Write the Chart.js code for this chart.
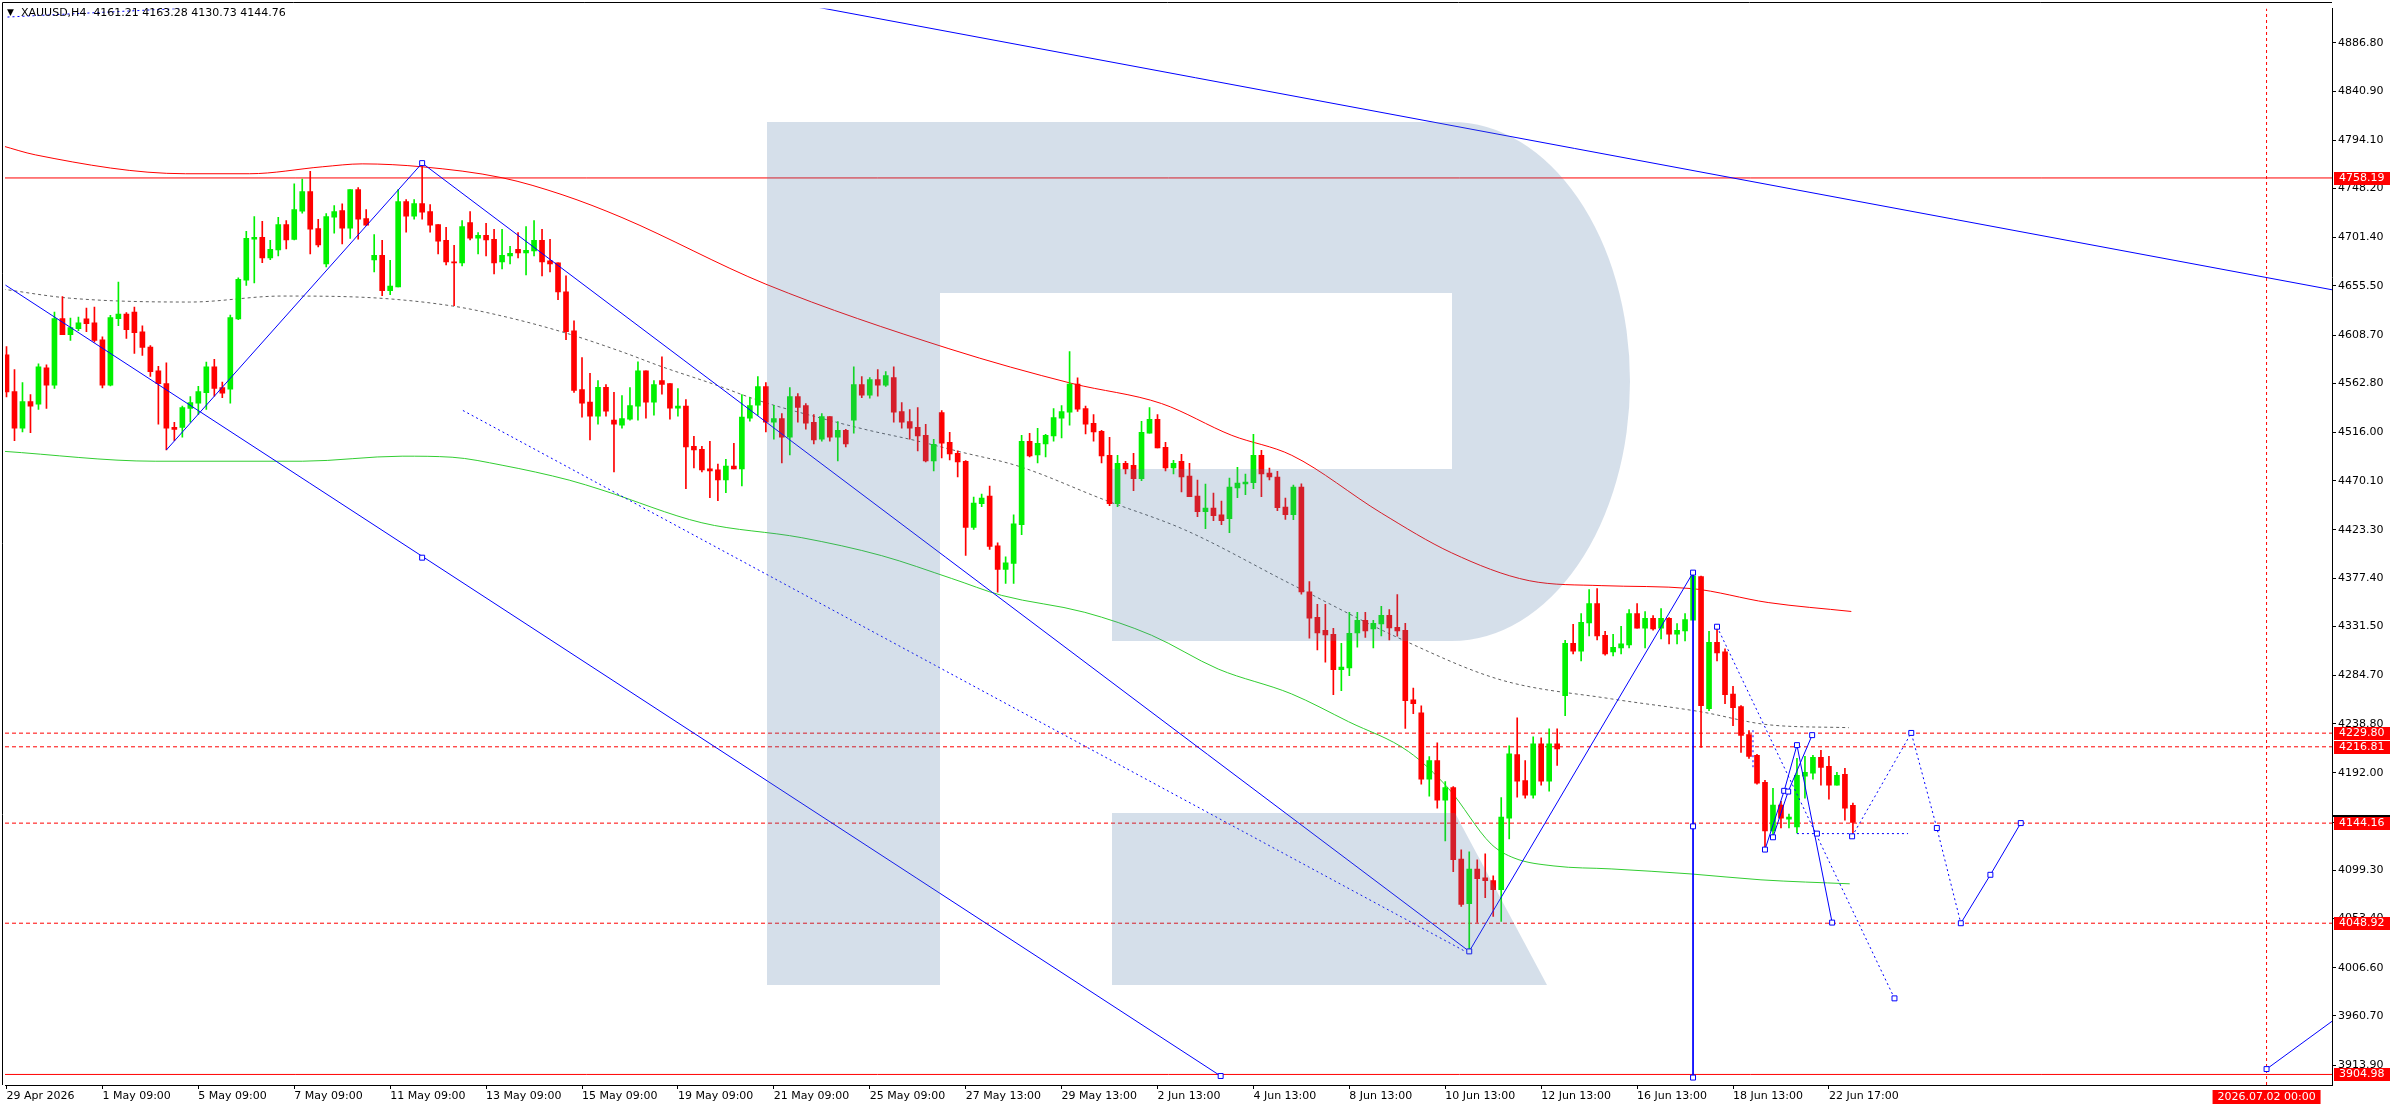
<!DOCTYPE html>
<html>
<head>
<meta charset="utf-8">
<script src="https://cdn.jsdelivr.net/npm/chart.js@4.4.1/dist/chart.umd.min.js"></script>
<style>
  html, body { margin: 0; padding: 0; background: #fff; }
  canvas { display: block; }
</style>
</head>
<body>
<canvas id="chart" width="2396" height="1110"></canvas>
<script>
// XAUUSD H4 candles, bar 0 = 29 Apr 2026
const opens = [4589.9,4554.9,4520.1,4545.4,4542.9,4577.6,4560.9,4624.3,4609.1,4614.8,4624.0,4620.2,4604.1,4560.9,4624.3,4628.7,4630.6,4611.7,4597.2,4574.7,
  4562.4,4520.8,4520.8,4538.8,4543.8,4553.9,4578.5,4558.6,4557.1,4624.0,4660.9,4700.0,4701.6,4682.0,4689.6,4713.9,4699.7,4726.5,4745.2,4710.1,
  4676.4,4720.9,4727.2,4710.4,4747.1,4719.6,4680.2,4684.6,4650.8,4654.6,4735.7,4721.8,4733.8,4726.2,4713.9,4698.8,4678.3,4677.3,4715.8,4701.0,
  4703.5,4699.7,4678.3,4683.9,4690.3,4686.8,4688.7,4698.8,4679.2,4677.3,4649.8,4612.6,4556.8,4544.8,4531.5,4558.9,4527.7,4523.0,4528.7,4541.0,
  4574.7,4544.8,4565.3,4562.4,4539.1,4541.0,4502.8,4499.9,4481.3,4480.4,4470.9,4483.9,4481.3,4529.6,4541.9,4559.6,4525.8,4529.3,4511.6,4550.1,
  4541.6,4525.5,4509.7,4531.2,4511.6,4517.9,4527.7,4561.5,4551.4,4566.2,4560.9,4568.1,4535.9,4526.4,4520.8,4513.2,4488.9,4535.0,4506.6,4496.2,
  4488.6,4425.5,4448.2,4455.4,4408.1,4385.7,4391.4,4428.3,4507.5,4494.6,4505.0,4512.6,4529.6,4535.3,4562.0,4538.8,4524.6,4517.0,4494.3,4448.2,
  4486.7,4484.8,4471.9,4515.4,4528.4,4501.8,4482.3,4488.6,4474.4,4455.4,4440.6,4444.1,4437.5,4434.0,4463.3,4467.1,4468.1,4494.3,4477.2,4473.4,
  4445.0,4437.8,4464.0,4364.3,4340.0,4327.7,4323.9,4290.1,4292.0,4325.1,4337.1,4328.9,4333.7,4341.9,4330.5,4327.7,4261.4,4249.1,4185.9,4203.6,
  4166.1,4178.1,4109.9,4067.6,4100.4,4092.2,4089.4,4080.9,4149.0,4209.3,4184.7,4170.8,4219.7,4184.0,4219.7,4265.5,4315.3,4307.8,4334.6,4353.2,
  4322.9,4307.1,4310.9,4313.7,4343.7,4329.8,4339.0,4329.8,4339.0,4324.1,4327.0,4337.4,4378.7,4253.1,4316.3,4307.1,4267.0,4255.0,4228.5,4208.6,
  4183.1,4136.7,4161.3,4148.0,4140.5,4188.8,4191.6,4206.7,4198.2,4180.2,4190.6,4161.21];
const highs = [4597.8,4575.7,4563.4,4552.0,4581.4,4580.4,4630.6,4645.4,4624.9,4625.9,4634.4,4635.3,4607.0,4627.5,4659.0,4630.0,4635.3,4617.4,4598.7,4578.8,
  4582.3,4525.5,4541.0,4550.1,4559.9,4582.9,4585.5,4564.0,4627.8,4663.1,4707.3,4721.5,4716.8,4698.8,4720.6,4717.7,4752.7,4757.2,4764.4,4718.7,
  4724.3,4731.9,4733.5,4747.1,4749.0,4728.1,4704.4,4698.8,4679.8,4747.1,4737.6,4737.6,4772.3,4732.9,4713.9,4711.1,4694.0,4717.7,4726.2,4706.3,
  4714.9,4709.2,4709.2,4693.1,4706.3,4712.0,4717.7,4709.2,4699.7,4677.3,4665.0,4622.1,4587.3,4572.2,4565.3,4561.5,4554.2,4551.1,4558.6,4583.3,
  4574.7,4565.3,4588.0,4562.4,4557.7,4547.3,4512.2,4502.8,4507.5,4486.0,4490.5,4505.6,4552.0,4549.2,4569.1,4563.4,4541.9,4534.0,4558.6,4553.0,
  4543.5,4533.1,4534.0,4531.2,4526.4,4518.9,4578.5,4569.1,4568.1,4575.7,4573.8,4578.5,4544.4,4537.8,4539.7,4523.6,4509.4,4536.9,4516.0,4498.4,
  4489.2,4454.5,4457.3,4464.9,4411.0,4397.7,4437.5,4513.2,4515.1,4519.8,4514.1,4538.8,4541.6,4593.0,4568.0,4541.0,4533.1,4518.0,4511.3,4494.3,
  4488.6,4496.2,4526.5,4539.7,4533.1,4506.6,4489.5,4495.2,4486.7,4470.6,4466.8,4458.3,4450.7,4472.5,4482.9,4476.3,4514.1,4499.0,4482.0,4479.1,
  4453.6,4466.0,4467.0,4374.0,4352.3,4352.3,4329.5,4315.3,4344.7,4344.7,4344.7,4337.1,4350.4,4347.5,4361.7,4334.3,4272.7,4255.7,4207.4,4220.7,
  4183.7,4179.0,4118.7,4116.8,4109.3,4115.0,4094.1,4168.6,4217.8,4244.3,4203.6,4226.3,4225.4,4233.9,4233.9,4318.2,4333.3,4343.7,4366.5,4367.4,
  4326.7,4323.8,4331.4,4347.5,4353.2,4345.6,4341.8,4348.4,4339.9,4334.2,4343.7,4382.5,4379.4,4326.7,4328.6,4310.0,4274.3,4256.0,4232.3,4209.6,
  4185.0,4177.4,4165.0,4152.8,4205.8,4207.7,4208.6,4213.4,4207.7,4192.5,4196.3,4163.28];
const lows = [4549.8,4508.2,4516.4,4515.7,4537.8,4538.8,4558.0,4609.1,4603.5,4612.9,4612.0,4601.9,4558.3,4560.2,4617.7,4605.4,4591.2,4589.3,4569.4,4523.9,
  4499.3,4508.2,4511.6,4525.8,4533.1,4537.8,4550.4,4549.2,4543.8,4623.3,4655.9,4658.4,4677.6,4680.5,4684.0,4690.6,4699.1,4724.7,4685.8,4692.5,
  4673.5,4705.7,4695.3,4700.7,4700.0,4713.0,4668.8,4646.1,4647.0,4654.6,4706.7,4719.0,4719.0,4706.7,4685.8,4675.4,4636.6,4674.5,4699.1,4685.8,
  4683.9,4666.9,4671.6,4676.4,4682.0,4665.9,4683.9,4665.0,4668.8,4642.3,4604.4,4554.2,4530.6,4508.8,4523.9,4531.5,4478.5,4520.1,4527.7,4527.7,
  4529.6,4532.4,4552.3,4528.7,4531.5,4462.4,4482.3,4478.5,4453.9,4451.0,4458.6,4481.3,4465.2,4526.8,4532.4,4516.4,4509.7,4487.0,4494.6,4525.8,
  4519.2,4505.0,4507.8,4507.8,4488.9,4502.1,4515.4,4549.2,4548.5,4550.4,4559.9,4525.8,4520.1,4509.7,4498.4,4487.9,4479.4,4491.7,4489.8,4473.7,
  4399.0,4423.6,4445.3,4404.6,4363.9,4372.4,4372.4,4418.8,4492.7,4487.0,4492.7,4507.8,4510.7,4523.0,4536.0,4514.5,4507.8,4487.0,4446.3,4445.3,
  4476.6,4460.5,4470.0,4515.4,4501.2,4479.4,4476.6,4459.5,4454.8,4435.9,4424.5,4432.1,4428.3,4420.7,4453.9,4456.7,4462.4,4454.8,4470.9,4441.6,
  4433.1,4433.0,4362.0,4320.1,4309.0,4297.4,4266.4,4270.2,4284.4,4311.6,4321.0,4310.9,4322.3,4318.5,4322.0,4234.2,4248.4,4181.2,4169.9,4158.5,
  4127.2,4097.9,4064.8,4022.8,4049.6,4073.3,4055.3,4050.6,4129.1,4168.9,4168.0,4168.0,4180.3,4174.6,4199.2,4246.5,4305.2,4298.6,4322.3,4318.5,
  4304.0,4303.3,4305.2,4310.9,4329.8,4310.9,4327.9,4319.4,4314.7,4314.7,4317.5,4337.4,4216.2,4251.2,4298.6,4257.9,4237.0,4211.5,4205.8,4181.2,
  4121.5,4130.0,4139.5,4139.5,4134.8,4167.9,4185.9,4180.2,4167.0,4180.2,4147.1,4130.73];
const closes = [4554.5,4520.1,4545.4,4541.0,4578.5,4560.9,4624.3,4609.1,4615.8,4620.2,4619.6,4603.5,4560.9,4625.2,4628.7,4613.9,4611.0,4596.8,4573.8,4562.4,
  4520.1,4518.9,4539.7,4544.4,4554.9,4578.5,4558.0,4553.3,4625.2,4661.8,4700.7,4701.6,4682.0,4690.3,4713.9,4699.1,4728.1,4745.2,4709.5,4694.4,
  4721.5,4726.2,4710.4,4747.1,4719.0,4713.3,4684.6,4650.8,4655.2,4735.7,4721.8,4733.8,4725.6,4713.3,4698.1,4678.3,4677.3,4712.0,4701.0,4703.5,
  4699.1,4677.3,4684.6,4686.5,4686.8,4689.3,4698.8,4678.3,4676.4,4649.8,4612.0,4556.1,4543.8,4531.5,4558.9,4536.2,4523.9,4529.3,4541.6,4574.7,
  4544.8,4561.5,4561.8,4539.1,4541.0,4502.1,4499.3,4480.4,4479.4,4470.9,4483.9,4481.3,4530.5,4541.6,4559.6,4525.8,4529.3,4511.6,4550.1,4539.7,
  4524.9,4508.8,4531.2,4511.6,4517.9,4505.0,4561.5,4551.4,4566.2,4560.9,4570.0,4535.3,4525.8,4520.1,4512.6,4488.9,4504.7,4505.9,4495.5,4488.0,
  4425.5,4448.8,4453.6,4407.5,4385.7,4392.0,4428.9,4507.5,4493.6,4505.6,4513.2,4530.2,4535.9,4562.0,4538.1,4523.9,4516.4,4493.6,4448.2,4486.7,
  4481.3,4471.9,4516.0,4528.4,4501.2,4482.3,4486.7,4473.7,4454.8,4440.6,4444.1,4436.8,4432.1,4464.0,4467.8,4468.7,4494.3,4476.6,4473.7,4444.4,
  4437.8,4464.0,4364.3,4339.3,4325.1,4323.2,4290.1,4292.6,4324.8,4337.1,4327.0,4334.3,4341.9,4329.9,4327.0,4260.8,4257.9,4185.9,4203.6,4166.1,
  4178.1,4109.3,4066.7,4100.4,4091.3,4089.4,4080.9,4150.0,4210.2,4184.0,4170.8,4219.7,4184.0,4219.7,4214.7,4315.3,4307.8,4335.2,4353.2,4322.3,
  4305.2,4311.5,4314.7,4343.7,4329.8,4339.0,4328.9,4339.0,4324.1,4327.6,4338.0,4379.4,4256.0,4316.3,4306.2,4266.4,4254.1,4227.6,4207.7,4182.1,
  4136.7,4161.3,4149.0,4149.9,4189.7,4192.5,4206.7,4197.3,4180.2,4189.7,4158.5,4144.76];

// moving averages, [bar, price]
const redMA = [[-0.5,4788.7],[3.6,4780.2],[22.4,4762.2],[30.4,4762.2],[39.5,4768.8],[44.5,4771.6],[52,4768.8],[62,4758.4],[69.5,4742.3],
  [77,4720.5],[95,4657.1],[117.9,4595.7],[133.3,4562.6],[144.5,4543.5],[153.3,4513.2],[160.8,4494.2],[172,4439.3],[180.8,4401.4],
  [190.5,4374.9],[199.5,4370.2],[210.8,4367.4],[220.4,4354.1],[230.8,4345.6]];
const dotMA = [[-0.5,4652.4],[7.9,4643.8],[22.9,4640.1],[34.5,4645.8],[46.6,4643.8],[55.8,4636.3],[62,4626.8],[69.5,4611.7],[77,4592.7],
  [82,4578.5],[88.3,4562.4],[94.5,4545.4],[101.1,4531.2],[107.9,4518],[113.6,4508.5],[119.5,4497.2],[126.6,4483.9],[137.4,4451.7],
  [147.4,4423.3],[160.8,4371.3],[174.5,4319.2],[187,4280.4],[200.8,4262.4],[212,4250.1],[220.4,4237.8],[230.5,4235]];
const greenMA = [[-0.5,4498.1],[18.6,4488.6],[37,4488.6],[49.5,4493.4],[55.75,4492.4],[62,4484.8],[70.4,4470.6],[74.5,4461.2],[87,4430],
  [99.5,4415.8],[109.5,4398.7],[118.25,4377],[124.5,4360.9],[134.9,4344.8],[143.25,4323],[151.6,4290.8],[160.75,4267.2],[167.9,4240.7],
  [175.4,4212.3],[180.4,4177.2],[185.75,4124.2],[188.6,4111],[193.6,4103.4],[200.75,4100.6],[210.75,4095.8],[219.5,4090.2],[230.6,4086.4]];

// drawn objects, [bar, price]
const solidLines = [
  [[100.4,4922.2],[291,4651.7]],
  [[-0.125,4656.2],[151.9,3903.5]],
  [[20,4499.3],[52,4772.3],[183,4022.1],[211,4382.6],[211,3902]],
  [[220,4119],[222.4,4174.9],[224,4218.4],[228.4,4049.5]],
  [[221,4130.7],[222.9,4174.2],[225.9,4227.9]],
  [[244.5,4048.9],[248.2,4095],[252,4144.2]],
  [[282.75,3910.1],[291,3955.9]]
];
const dottedLines = [
  [[-0.5,4911.1],[22,4919.6]],
  [[57.1,4536.9],[182.4,4022.5]],
  [[214,4331.1],[236.2,3977.4]],
  [[224,4134.2],[237.9,4134.2]],
  [[230.9,4131.6],[238.3,4230],[241.5,4139.5],[244.5,4048.9]],
  [[218.5,4232.6],[218.5,4196.3]]
];
const anchors = [[52,4772.3],[52,4396.8],[151.9,3903.5],[183,4022.1],[211,4382.6],[211,4141.1],[211,3902],[214,4331.1],
  [220,4119],[221,4130.7],[222.4,4174.9],[222.9,4174.2],[224,4218.4],[225.9,4227.9],[226.5,4134.2],[228.4,4049.5],
  [230.9,4131.6],[236.2,3977.4],[238.3,4230],[241.5,4139.5],[244.5,4048.9],[248.2,4095],[252,4144.2],[282.75,3910.1]];

const solidLevels = [4758.19, 3904.98];
const dottedLevels = [4229.80, 4216.81, 4144.16, 4048.92];
const markedLevels = [4758.19, 4229.80, 4216.81, 4144.16, 4048.92, 3904.98];
const futureBar = 282.75;
const futureLabel = '2026.07.02 00:00';

const yTicks = [4886.8,4840.9,4794.1,4748.2,4701.4,4655.5,4608.7,4562.8,4516.0,4470.1,4423.3,4377.4,4331.5,4284.7,4238.8,4192.0,
  4145.2,4099.3,4053.4,4006.6,3960.7,3913.9];
const xTickBars = [0,12,24,36,48,60,72,84,96,108,120,132,144,156,168,180,192,204,216,228];
const xTickLabels = ['29 Apr 2026','1 May 09:00','5 May 09:00','7 May 09:00','11 May 09:00','13 May 09:00','15 May 09:00',
  '19 May 09:00','21 May 09:00','25 May 09:00','27 May 13:00','29 May 13:00','2 Jun 13:00','4 Jun 13:00','8 Jun 13:00',
  '10 Jun 13:00','12 Jun 13:00','16 Jun 13:00','18 Jun 13:00','22 Jun 17:00'];

const xMin = -0.1875, xMax = 290.9375;
const yMin = 3894.94, yMax = 4919.37;

const UP = 'rgb(0,240,0)', DOWN = '#ff0000', BLUE = '#0000ff';
const FONT = '11px "DejaVu Sans"';

Chart.defaults.font.family = '"DejaVu Sans", sans-serif';
Chart.defaults.font.size = 11;
Chart.defaults.color = '#000';

const candleColors = opens.map((o, i) => closes[i] >= o ? UP : DOWN);
const bodies = opens.map((o, i) => ({ x: i, y: [o, closes[i]] }));
const wicks = highs.map((h, i) => ({ x: i, y: [lows[i], h] }));

function pts(list) { return list.map(p => ({ x: p[0], y: p[1] })); }
function lineSet(list, color, dash, order, extra) {
  return Object.assign({
    type: 'line', data: pts(list), borderColor: color, borderWidth: 1, borderDash: dash,
    pointRadius: 0, fill: false, tension: 0, order: order
  }, extra || {});
}

const datasets = [];
solidLevels.forEach(v => datasets.push(lineSet([[xMin, v], [xMax, v]], '#ff0000', [], 60)));
dottedLevels.forEach(v => datasets.push(lineSet([[xMin, v], [xMax, v]], '#ff0000', [4, 3], 60)));
datasets.push(lineSet([[futureBar, yMin], [futureBar, yMax]], '#ff0000', [3, 3], 60));
datasets.push(lineSet(greenMA, '#32cd32', [], 50, { cubicInterpolationMode: 'monotone' }));
datasets.push(lineSet(dotMA, '#606060', [3, 3], 50, { cubicInterpolationMode: 'monotone' }));
datasets.push(lineSet(redMA, '#ff0000', [], 50, { cubicInterpolationMode: 'monotone' }));
datasets.push({ type: 'bar', data: wicks, backgroundColor: candleColors, barThickness: 1, grouped: false, order: 40 });
datasets.push({ type: 'bar', data: bodies, backgroundColor: candleColors, barThickness: 5, grouped: false, minBarLength: 1, order: 30 });
solidLines.forEach(l => datasets.push(lineSet(l, BLUE, [], 20)));
dottedLines.forEach(l => datasets.push(lineSet(l, BLUE, [2, 3], 20)));
datasets.push({
  type: 'scatter', data: pts(anchors), pointStyle: 'rect', pointRadius: 3.5, borderWidth: 1,
  pointBorderColor: BLUE, pointBackgroundColor: '#fff', order: 10
});

// background, logo, frame, title and price boxes
const decor = {
  id: 'decor',
  beforeDraw(chart) {
    const ctx = chart.ctx;
    ctx.save();
    ctx.fillStyle = '#fff';
    ctx.fillRect(0, 0, chart.width, chart.height);
    ctx.restore();
  },
  afterDatasetsDraw(chart) {
    const ctx = chart.ctx;
    ctx.save();
    ctx.fillStyle = 'rgba(82,123,169,0.243)';
    ctx.beginPath();
    ctx.moveTo(767, 122); ctx.lineTo(1452, 122);
    ctx.ellipse(1452, 381.5, 178, 259.5, 0, -Math.PI / 2, Math.PI / 2);
    ctx.lineTo(1112, 641); ctx.lineTo(1112, 469); ctx.lineTo(1452, 469); ctx.lineTo(1452, 293);
    ctx.lineTo(940, 293); ctx.lineTo(940, 985); ctx.lineTo(767, 985); ctx.closePath();
    ctx.moveTo(1112, 813); ctx.lineTo(1455, 813); ctx.lineTo(1547, 985); ctx.lineTo(1112, 985); ctx.closePath();
    ctx.fill();
    ctx.restore();
  },
  afterDraw(chart) {
    const ctx = chart.ctx, a = chart.chartArea;
    const ys = chart.scales.y, xs = chart.scales.x;
    ctx.save();
    ctx.strokeStyle = '#000';
    ctx.lineWidth = 1;
    ctx.beginPath();
    ctx.moveTo(2.5, a.bottom); ctx.lineTo(2.5, 2.5); ctx.lineTo(a.right, 2.5);
    ctx.stroke();

    const n = opens.length - 1;
    ctx.fillStyle = '#000';
    ctx.textBaseline = 'middle';
    ctx.font = '9px "DejaVu Sans"';
    ctx.fillText('\u25BC', 7, 13);
    ctx.font = FONT;
    ctx.fillText('XAUUSD,H4  ' + [opens[n], highs[n], lows[n], closes[n]].map(v => v.toFixed(2)).join(' '), 21, 13);

    markedLevels.forEach(v => {
      const y = Math.round(ys.getPixelForValue(v));
      ctx.fillStyle = '#ff0000';
      ctx.fillRect(a.right + 2, y - 6, 56, 13);
      ctx.fillStyle = '#fff';
      ctx.fillText(v.toFixed(2), a.right + 7, y + 0.5);
      if (v === closes[n] || Math.abs(v - closes[n]) < 1) {
        ctx.fillStyle = '#000';
        ctx.fillRect(a.right, y - 8, 58, 2);
      }
    });

    const fx = xs.getPixelForValue(futureBar);
    ctx.fillStyle = '#ff0000';
    ctx.fillRect(fx - 54, a.bottom + 5, 108, 14);
    ctx.fillStyle = '#fff';
    ctx.textAlign = 'center';
    ctx.fillText(futureLabel, fx, a.bottom + 12.5);
    ctx.restore();
  }
};

new Chart(document.getElementById('chart'), {
  type: 'bar',
  data: { datasets: datasets },
  options: {
    responsive: false,
    animation: false,
    devicePixelRatio: 1,
    events: [],
    layout: { padding: { left: 3, top: 3, right: 0, bottom: 0 } },
    plugins: { legend: { display: false }, tooltip: { enabled: false } },
    scales: {
      x: {
        type: 'linear', min: xMin, max: xMax, offset: false,
        grid: { drawOnChartArea: false, tickLength: 4, color: '#000', offset: false },
        border: { display: true, color: '#000', width: 1 },
        ticks: {
          autoSkip: false, maxRotation: 0, minRotation: 0, align: 'start', padding: 1, color: '#000',
          callback: (v, i) => xTickLabels[i]
        },
        afterBuildTicks: s => { s.ticks = xTickBars.map(v => ({ value: v })); },
        afterFit: s => { s.height = 25; }
      },
      y: {
        type: 'linear', position: 'right', min: yMin, max: yMax,
        grid: { drawOnChartArea: false, tickLength: 4, color: '#000' },
        border: { display: true, color: '#000', width: 1 },
        ticks: { padding: 2, color: '#000', callback: v => v.toFixed(2) },
        afterBuildTicks: s => { s.ticks = yTicks.map(v => ({ value: v })); },
        afterFit: s => { s.width = 64; }
      }
    }
  },
  plugins: [decor]
});
</script>
</body>
</html>
